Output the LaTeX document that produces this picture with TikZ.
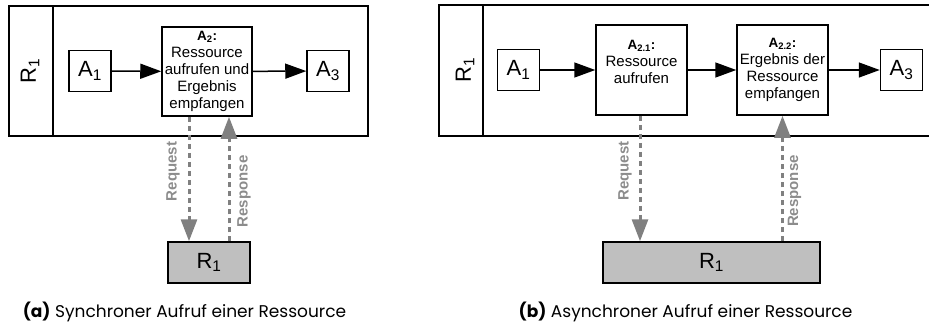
\documentclass[tikz,border=0pt]{standalone}
\usepackage{fontspec}
\setmainfont{Liberation Sans}
\newfontfamily\capfont{Poppins}
\usetikzlibrary{arrows.meta, positioning}

\begin{document}
\begin{tikzpicture}[x=1pt, y=-1pt,
    task/.style={draw, line width=1.5pt, fill=white, align=center, inner sep=0pt,
                 minimum width=90pt, minimum height=89pt, font=\fontsize{15}{17}\selectfont},
    small task/.style={draw, line width=1.5pt, fill=white, inner sep=0pt,
                 minimum width=42pt, minimum height=41pt, font=\fontsize{22}{24}\selectfont},
    resource/.style={draw, line width=1.5pt, fill=black!25, inner sep=0pt,
                 minimum height=41pt, font=\fontsize{22}{24}\selectfont},
    lane/.style={draw, line width=2pt},
    lane label/.style={rotate=90, font=\fontsize{22}{24}\selectfont},
    flow/.style={-{Triangle[length=21pt,width=15pt]}, line width=1.5pt},
    msg/.style={-{Triangle[length=22pt,width=16pt]}, draw=black!50, line width=3pt,
                dash pattern=on 5pt off 4pt},
    msg label/.style={rotate=90, text=black!45, font=\fontsize{15}{17}\selectfont\bfseries},
    caption/.style={anchor=base, font=\capfont\fontsize{17}{20}\selectfont}]

  \useasboundingbox (0,0) rectangle (929,324);
  \clip (0,0) rectangle (929,324);

  % (a) synchronous call
  \draw[lane] (9,6) rectangle (368,136);
  \draw[lane] (53,6) -- (53,136);
  \node[lane label] (laneA) at (30,71) {R\textsubscript{1}};

  \node[small task] (A1) at (90,71) {A\textsubscript{1}};
  \node[task] (A2) at (207,71.5) {{\bfseries\fontsize{13.5}{17}\selectfont A\textsubscript{2}:}\\
    Ressource\\aufrufen und\\Ergebnis\\empfangen};
  \node[small task] (A3) at (328,71) {A\textsubscript{3}};
  \node[resource, minimum width=82pt] (RA) at (209,262.5) {R\textsubscript{1}};

  \draw[flow] (A1) -- (A2);
  \draw[flow] (A2) -- (A3);

  \coordinate (reqA) at ([xshift=-18pt]A2.south);
  \coordinate (respA) at ([xshift=22pt]A2.south);
  \draw[msg] (reqA) -- (reqA |- RA.north)
    node[xshift=-16pt, msg label, pos=0.44] {Request};
  \draw[msg] (respA |- RA.north) -- (respA)
    node[xshift=15pt, msg label, pos=0.40] {Response};

  \node[caption] (capA) at (184.5,317) {\textbf{(a)} Synchroner Aufruf einer Ressource};

  % (b) asynchronous call
  \draw[lane] (960,5) -- (439,5) -- (439,136) -- (960,136);
  \draw[lane] (483,5) -- (483,136);
  \node[lane label] (laneB) at (465,70) {R\textsubscript{1}};

  \node[small task] (B1) at (518.5,70) {A\textsubscript{1}};
  \node[task, minimum width=91pt, minimum height=90pt] (B21) at (641.5,70)
    {{\bfseries\fontsize{13.5}{17}\selectfont A\textsubscript{2.1}:}\\
    Ressource\\aufrufen\\~};
  \node[task, minimum width=91pt, minimum height=90pt] (B22) at (782.5,70)
    {{\bfseries\fontsize{13.5}{17}\selectfont A\textsubscript{2.2}:}\\
    Ergebnis der\\Ressource\\empfangen};
  \node[small task] (B3) at (901.5,70) {A\textsubscript{3}};
  \node[resource, minimum width=217pt] (RB) at (711.5,262.5) {R\textsubscript{1}};

  \path[flow]
    (B1) edge (B21)
    (B21) edge (B22)
    (B22) edge (B3);

  \coordinate (reqB) at ([xshift=-1.5pt]B21.south);
  \coordinate (respB) at (B22.south);
  \draw[msg] (reqB) -- (reqB |- RB.north)
    node[xshift=-15pt, msg label, pos=0.44] {Request};
  \draw[msg] (respB |- RB.north) -- (respB)
    node[xshift=12pt, msg label, pos=0.40] {Response};

  \node[caption] (capB) at (685.5,317) {\textbf{(b)} Asynchroner Aufruf einer Ressource};
\end{tikzpicture}
\end{document}
